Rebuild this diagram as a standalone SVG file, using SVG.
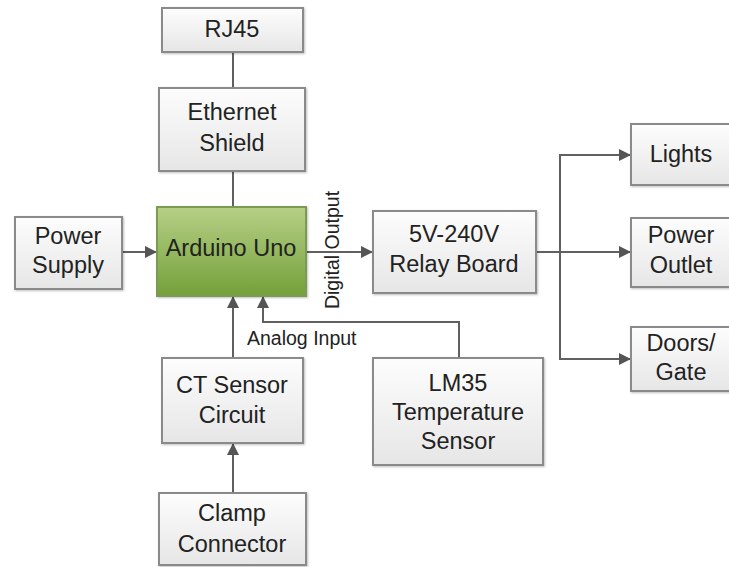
<svg xmlns="http://www.w3.org/2000/svg" width="729" height="567" viewBox="0 0 729 567">
<style>
.box{fill:url(#gray);stroke:#8a8a8a;stroke-width:2}
.ard{fill:url(#green);stroke:#7b9a52;stroke-width:2}
.lbl{font-family:"Liberation Sans",Arial,sans-serif;font-size:23.5px;fill:#222;text-anchor:middle}
.small{font-family:"Liberation Sans",Arial,sans-serif;font-size:19.5px;fill:#222}
.wire{fill:none;stroke:#606060;stroke-width:2}
.arr{marker-end:url(#ah)}
</style>
<defs>
<linearGradient id="gray" x1="0" y1="0" x2="0" y2="1">
<stop offset="0" stop-color="#fdfdfd"/><stop offset="1" stop-color="#e6e6e6"/>
</linearGradient>
<linearGradient id="green" x1="0" y1="0" x2="0" y2="1">
<stop offset="0" stop-color="#b6d086"/><stop offset="1" stop-color="#74a03a"/>
</linearGradient>
<filter id="sh" x="-10%" y="-10%" width="130%" height="130%">
<feDropShadow dx="1" dy="1" stdDeviation="1" flood-color="#000" flood-opacity="0.25"/>
</filter>
<marker id="ah" viewBox="0 0 10 10" refX="10" refY="5" markerWidth="6" markerHeight="6" orient="auto" markerUnits="strokeWidth">
<path d="M0,0 L10,5 L0,10 z" fill="#555"/>
</marker>
</defs>
<rect width="729" height="567" fill="#fff"/>
<g id="connectors">
<line class="wire" x1="233" y1="52" x2="233" y2="88"/>
<line class="wire" x1="233" y1="171" x2="233" y2="207"/>
<line class="wire arr" x1="122" y1="252" x2="157" y2="252"/>
<line class="wire arr" x1="306" y1="252" x2="373" y2="252"/>
<polyline class="wire" points="536,252 560,252"/>
<polyline class="wire arr" points="560,252 560,155 631,155"/>
<line class="wire arr" x1="560" y1="252" x2="631" y2="252"/>
<polyline class="wire arr" points="560,252 560,359 631,359"/>
<line class="wire arr" x1="233" y1="358" x2="233" y2="296"/>
<polyline class="wire arr" points="459,358 459,322 263,322 263,296"/>
<line class="wire arr" x1="233" y1="493" x2="233" y2="443"/>
<text class="small" x="247" y="345">Analog Input</text>
<text class="small" transform="translate(339,250) rotate(-90)" text-anchor="middle">Digital Output</text>
</g>
<g id="rj45">
<rect class="box" filter="url(#sh)" x="162" y="8" width="141" height="44"/>
<text class="lbl" x="232" y="37">RJ45</text>
</g>
<g id="ethernet">
<rect class="box" filter="url(#sh)" x="159" y="88" width="146" height="83"/>
<text class="lbl" x="232" y="120">Ethernet</text>
<text class="lbl" x="232" y="151">Shield</text>
</g>
<g id="arduino">
<rect class="ard" filter="url(#sh)" x="157" y="207" width="149" height="89"/>
<text class="lbl" x="231" y="256">Arduino Uno</text>
</g>
<g id="power-supply">
<rect class="box" filter="url(#sh)" x="15" y="217" width="107" height="72"/>
<text class="lbl" x="68" y="244">Power</text>
<text class="lbl" x="68" y="273">Supply</text>
</g>
<g id="relay">
<rect class="box" filter="url(#sh)" x="373" y="211" width="163" height="82"/>
<text class="lbl" x="454" y="242">5V-240V</text>
<text class="lbl" x="454" y="272">Relay Board</text>
</g>
<g id="lights">
<rect class="box" filter="url(#sh)" x="631" y="124" width="100" height="61"/>
<text class="lbl" x="681" y="162">Lights</text>
</g>
<g id="power-outlet">
<rect class="box" filter="url(#sh)" x="631" y="218" width="100" height="69"/>
<text class="lbl" x="681" y="243">Power</text>
<text class="lbl" x="681" y="273">Outlet</text>
</g>
<g id="doors">
<rect class="box" filter="url(#sh)" x="631" y="327" width="100" height="64"/>
<text class="lbl" x="681" y="351">Doors/</text>
<text class="lbl" x="681" y="380">Gate</text>
</g>
<g id="ct-sensor">
<rect class="box" filter="url(#sh)" x="162" y="358" width="141" height="85"/>
<text class="lbl" x="232" y="393">CT Sensor</text>
<text class="lbl" x="232" y="423">Circuit</text>
</g>
<g id="clamp">
<rect class="box" filter="url(#sh)" x="159" y="493" width="147" height="72"/>
<text class="lbl" x="232" y="521">Clamp</text>
<text class="lbl" x="232" y="552">Connector</text>
</g>
<g id="lm35">
<rect class="box" filter="url(#sh)" x="373" y="358" width="170" height="107"/>
<text class="lbl" x="458" y="391">LM35</text>
<text class="lbl" x="458" y="420">Temperature</text>
<text class="lbl" x="458" y="449">Sensor</text>
</g>
</svg>
